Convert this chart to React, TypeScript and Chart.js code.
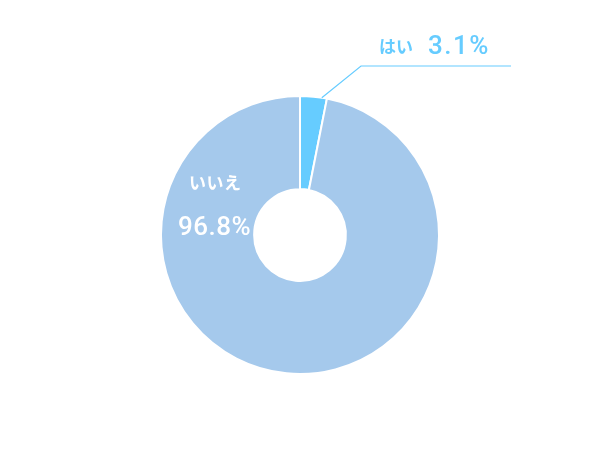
import React, { useEffect, useRef } from "react";
import { Chart, registerables } from "chart.js";

Chart.register(...registerables);

const categories = ["はい", "いいえ"];
const values = [3.1, 96.8];
const colors = ["#66CCFF", "#A5C9EC"];

const labelPlugin = {
  id: "labelPlugin",
  afterDatasetsDraw(chart: any) {
    const ctx = chart.ctx;
    const meta = chart.getDatasetMeta(0);
    const a0 = meta.data[0];
    const cx = a0.x;
    const cy = a0.y;
    const R = a0.outerRadius;
    const jp = '"Noto Sans CJK JP", "Noto Sans", sans-serif';
    const num = 'Roboto, "Liberation Sans", Arial, sans-serif';
    ctx.save();
    const mid = (a0.startAngle + a0.endAngle) / 2 + 0.06;
    const sx = cx + Math.cos(mid) * R;
    const sy = cy + Math.sin(mid) * R;
    const ex = cx + 61;
    const ey = cy - 169;
    ctx.strokeStyle = "#66CCFF";
    ctx.lineWidth = 1.2;
    ctx.beginPath();
    ctx.moveTo(sx, sy);
    ctx.lineTo(ex, ey);
    ctx.lineTo(ex + 150, ey);
    ctx.stroke();
    ctx.fillStyle = "#66CCFF";
    ctx.textBaseline = "middle";
    ctx.textAlign = "left";
    ctx.font = "bold 17px " + jp;
    ctx.fillText(categories[0], ex + 18, ey - 19);
    ctx.font = "500 26px " + num;
    (ctx as any).letterSpacing = "1.5px";
    ctx.fillText(values[0].toFixed(1) + "%", ex + 67, ey - 19);
    (ctx as any).letterSpacing = "0.5px";
    ctx.fillStyle = "#FFFFFF";
    ctx.textAlign = "left";
    ctx.font = "bold 17px " + jp;
    ctx.fillText(categories[1], cx - 111, cy - 52);
    ctx.font = "500 26px " + num;
    ctx.fillText(values[1].toFixed(1) + "%", cx - 122, cy - 7);
    ctx.restore();
  },
};

export default function App() {
  const ref = useRef<HTMLCanvasElement>(null);
  useEffect(() => {
    const chart = new Chart(ref.current!, {
      type: "doughnut",
      data: {
        labels: categories,
        datasets: [
          {
            data: values,
            backgroundColor: colors,
            borderColor: "#FFFFFF",
            borderWidth: 2,
          },
        ],
      },
      options: {
        animation: false,
        responsive: false,
        cutout: "33%",
        layout: { padding: { top: 95, bottom: 87, left: 160, right: 160 } },
        plugins: { legend: { display: false }, tooltip: { enabled: false } },
      },
      plugins: [labelPlugin],
    });
    return () => chart.destroy();
  }, []);
  return (
    <div style={{ position: "fixed", left: 0, top: 0, width: 600, height: 462, background: "#fff" }}>
      <canvas ref={ref} width={600} height={462} style={{ width: 600, height: 462 }} />
    </div>
  );
}
